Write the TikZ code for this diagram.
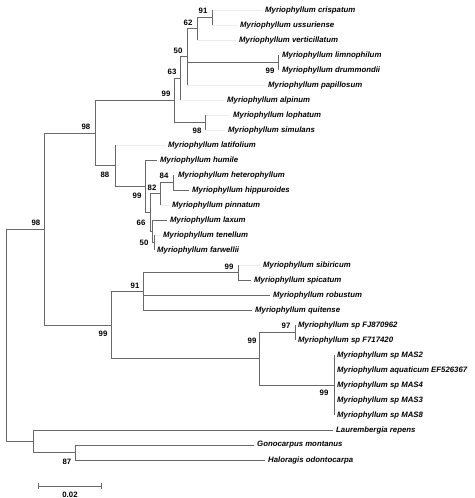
\documentclass[tikz,border=0pt]{standalone}
\usepackage{fontspec}
\setmainfont{Liberation Sans}
\usepackage{tikz}
\usetikzlibrary{arrows.meta, calc}
\definecolor{branchgray}{RGB}{105,105,105}
\definecolor{faintgray}{RGB}{236,236,236}
\tikzset{
    branch/.style={draw=branchgray, line width=0.9pt},
    faintbranch/.style={draw=faintgray, line width=0.9pt},
    taxon/.style={anchor=west, inner xsep=3pt, inner ysep=0pt,
                  font=\fontsize{7.8}{9}\selectfont\bfseries\itshape},
    bslbl/.style={inner sep=0pt, font=\fontsize{7.8}{9}\selectfont\bfseries},
    scalebar/.style={branch, {Bar[width=6pt]}-{Bar[width=6pt]}},
}

\begin{document}
\begin{tikzpicture}[x=1pt, y=-1pt]
    \useasboundingbox (0,0) rectangle (474,498);

    % taxa
    \node[taxon] (crispatum)     at (262,10)  {Myriophyllum crispatum};
    \node[taxon] (ussuriense)    at (237,25)  {Myriophyllum ussuriense};
    \node[taxon] (verticillatum) at (236,40)  {Myriophyllum verticillatum};
    \node[taxon] (limnophilum)   at (279,55)  {Myriophyllum limnophilum};
    \node[taxon] (drummondii)    at (279,70)  {Myriophyllum drummondii};
    \node[taxon] (papillosum)    at (265,85)  {Myriophyllum papillosum};
    \node[taxon] (alpinum)       at (224,100) {Myriophyllum alpinum};
    \node[taxon] (lophatum)      at (230,115) {Myriophyllum lophatum};
    \node[taxon] (simulans)      at (225,130) {Myriophyllum simulans};
    \node[taxon] (latifolium)    at (165,145) {Myriophyllum latifolium};
    \node[taxon] (humile)        at (157,160) {Myriophyllum humile};
    \node[taxon] (heterophyllum) at (175,175) {Myriophyllum heterophyllum};
    \node[taxon] (hippuroides)   at (189,190) {Myriophyllum hippuroides};
    \node[taxon] (pinnatum)      at (169,205) {Myriophyllum pinnatum};
    \node[taxon] (laxum)         at (167,220) {Myriophyllum laxum};
    \node[taxon] (tenellum)      at (160,235) {Myriophyllum tenellum};
    \node[taxon] (farwellii)     at (154,250) {Myriophyllum farwellii};
    \node[taxon] (sibiricum)     at (260,265) {Myriophyllum sibiricum};
    \node[taxon] (spicatum)      at (251,280) {Myriophyllum spicatum};
    \node[taxon] (robustum)      at (270,295) {Myriophyllum robustum};
    \node[taxon] (quitense)      at (252,310) {Myriophyllum quitense};
    \node[taxon] (spFJ)          at (295,325) {Myriophyllum sp FJ870962};
    \node[taxon] (spFS)          at (295,340) {Myriophyllum sp F717420};
    \node[taxon] (spMASb)        at (334,355) {Myriophyllum sp MAS2};
    \node[taxon] (aquaticum)     at (334,370) {Myriophyllum aquaticum EF526367};
    \node[taxon] (spMASd)        at (334,385) {Myriophyllum sp MAS4};
    \node[taxon] (spMASc)        at (334,400) {Myriophyllum sp MAS3};
    \node[taxon] (spMASh)        at (334,415) {Myriophyllum sp MAS8};
    \node[taxon] (laurembergia)  at (333,430) {Laurembergia repens};
    \node[taxon] (gonocarpus)    at (254,445) {Gonocarpus montanus};
    \node[taxon] (haloragis)     at (265,460) {Haloragis odontocarpa};

    % internal nodes
    \coordinate (Q) at (212,17.5);
    \coordinate (N) at (197,28.75);
    \coordinate (P) at (278,62.5);
    \coordinate (M) at (187,56.9);
    \coordinate (K) at (180,78.4);
    \coordinate (L) at (205,122.5);
    \coordinate (C) at (174,100.5);
    \coordinate (J) at (173,182.5);
    \coordinate (G) at (160,193.75);
    \coordinate (I) at (154,242.5);
    \coordinate (H) at (152,231.25);
    \coordinate (F) at (150,212.5);
    \coordinate (E) at (145,186.25);
    \coordinate (D) at (115,165.6);
    \coordinate (B) at (95,133);
    \coordinate (U) at (238,272.5);
    \coordinate (S) at (143,291.25);
    \coordinate (V) at (295,332.5);
    \coordinate (W) at (334,385);
    \coordinate (T) at (259,358.75);
    \coordinate (R) at (111,325);
    \coordinate (A) at (44,229);
    \coordinate (Y) at (75,452.5);
    \coordinate (X) at (33,441.25);
    \coordinate (root) at (6,335);

    % leaf branches that barely show
    \foreach \p/\c in {Q/crispatum, Q/ussuriense, N/verticillatum, M/papillosum,
                       K/alpinum, L/lophatum, L/simulans, D/latifolium, G/pinnatum,
                       J/heterophyllum, I/tenellum, U/sibiricum}
        \draw[faintbranch] (\p |- \c) -- (\c);

    % vertical bars
    \foreach \p/\a/\b in {Q/crispatum/ussuriense, N/Q/verticillatum, M/N/papillosum,
                          P/limnophilum/drummondii, K/M/alpinum, C/K/L, L/lophatum/simulans,
                          B/C/D, D/latifolium/E, E/humile/F, F/G/H, G/J/pinnatum,
                          J/heterophyllum/hippuroides, H/laxum/I, I/tenellum/farwellii,
                          A/B/R, R/S/T, S/U/quitense, U/sibiricum/spicatum, T/V/W,
                          V/spFJ/spFS, W/spMASb/spMASh, X/laurembergia/Y,
                          Y/gonocarpus/haloragis, root/A/X}
        \draw[branch] (\p |- \a) -- (\p |- \b);

    % horizontal branches
    \foreach \p/\c in {N/Q, M/N, M/P, K/M, C/K, C/L, B/C, B/D, D/E, E/F, F/G, F/H,
                       G/J, H/I, A/B, A/R, R/S, R/T, S/U, T/V, T/W, X/Y,
                       root/A, root/X}
        \draw[branch] (\p |- \c) -- (\c);
    \foreach \p/\c in {E/humile, J/hippuroides, H/laxum, U/spicatum, S/robustum,
                       S/quitense, X/laurembergia, Y/gonocarpus, Y/haloragis}
        \draw[branch] (\p |- \c) -- (\c);

    % bootstrap values
    \node[bslbl] (bsQ) at (203,11)  {91};
    \node[bslbl] (bsN) at (188,23)  {62};
    \node[bslbl] (bsM) at (178,51)  {50};
    \node[bslbl] (bsK) at (172,72)  {63};
    \node[bslbl] (bsC) at (166,94)  {99};
    \node[bslbl] (bsL) at (197,131) {98};
    \node[bslbl] (bsP) at (270,71)  {99};
    \node[bslbl] (bsB) at (86,127)  {98};
    \node[bslbl] (bsD) at (105,175) {88};
    \node[bslbl] (bsE) at (137,196) {99};
    \node[bslbl] (bsG) at (152,188) {82};
    \node[bslbl] (bsJ) at (164,176) {84};
    \node[bslbl] (bsH) at (141,223) {66};
    \node[bslbl] (bsI) at (144,243) {50};
    \node[bslbl] (bsA) at (36,223)  {98};
    \node[bslbl] (bsU) at (229,267) {99};
    \node[bslbl] (bsS) at (135,286) {91};
    \node[bslbl] (bsR) at (103,334) {99};
    \node[bslbl] (bsV) at (286,326) {97};
    \node[bslbl] (bsT) at (252,341) {99};
    \node[bslbl] (bsW) at (324,393) {99};
    \node[bslbl] (bsY) at (67,462)  {87};

    % scale
    \coordinate (sbL) at (38,486);
    \coordinate (sbR) at (102,486);
    \draw[scalebar] (sbL) -- (sbR);
    \node[bslbl] (sbtext) at (70,495) {0.02};
\end{tikzpicture}
\end{document}
